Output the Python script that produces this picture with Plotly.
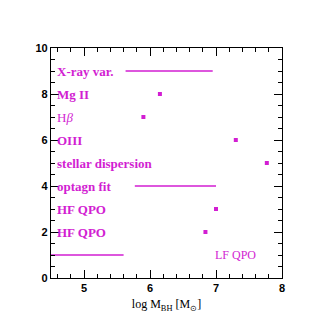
import plotly.graph_objects as go

# Mass estimates (log M_BH) for each method, plotted at its row
methods = ["LF QPO", "HF QPO", "HF QPO", "optagn fit", "stellar dispersion",
           "OIII", "Hβ", "Mg II", "X-ray var."]
rows = [1, 2, 3, 4, 5, 6, 7, 8, 9]
mass_lo = [4.3, 6.84, 7.0, 5.77, 7.77, 7.30, 5.90, 6.15, 5.63]
mass_hi = [5.6, 6.84, 7.0, 7.00, 7.77, 7.30, 5.90, 6.15, 6.95]

x_ticks = [5, 6, 7, 8]
y_ticks = [0, 2, 4, 6, 8, 10]

MAG = "#d21ed2"
X_RANGE = [4.5, 8]
Y_RANGE = [0, 10]

line_x, line_y, pt_x, pt_y = [], [], [], []
for lo, hi, r in zip(mass_lo, mass_hi, rows):
    if hi > lo:
        line_x += [lo, hi, None]
        line_y += [r, r, None]
    else:
        pt_x.append(lo)
        pt_y.append(r)

fig = go.Figure()
fig.add_trace(go.Scatter(x=line_x, y=line_y, mode="lines",
                         line=dict(color=MAG, width=1.6), hoverinfo="skip"))
fig.add_trace(go.Scatter(x=pt_x, y=pt_y, mode="markers",
                         marker=dict(color=MAG, size=4, symbol="square"),
                         hoverinfo="skip"))
# empty trace that carries the mirrored top/right axes
fig.add_trace(go.Scatter(x=[None], y=[None], xaxis="x2", yaxis="y2",
                         hoverinfo="skip"))

label_font = dict(family="Liberation Serif", size=13, color=MAG)
for name, r in zip(methods, rows):
    if name == "LF QPO":
        fig.add_annotation(x=6.96, y=r, text=name, showarrow=False,
                           xanchor="left", yanchor="middle",
                           font=dict(family="Liberation Serif", size=12, color=MAG))
    else:
        txt = "H<i>β</i>" if name == "Hβ" else "<b>%s</b>" % name
        fig.add_annotation(x=4.56, y=r, text=txt, showarrow=False,
                           xanchor="left", yanchor="middle", font=label_font)

tick_font = dict(family="Liberation Sans", size=11, color="black")
frame = dict(showgrid=False, zeroline=False, showline=True,
             linecolor="black", linewidth=1.2,
             ticks="inside", tickcolor="black", tickwidth=1, ticklen=8)

fig.update_layout(
    xaxis=dict(range=X_RANGE, tickvals=x_ticks,
               ticktext=["<b>%d</b>" % v for v in x_ticks], tickfont=tick_font,
               minor=dict(dtick=0.2, ticks="inside", ticklen=4,
                          tickcolor="black", showgrid=False),
               title=dict(text="log M<sub>BH</sub> [M<sub>⊙</sub>]",
                          font=dict(family="Liberation Serif", size=12,
                                    color="black"), standoff=6),
               **frame),
    yaxis=dict(range=Y_RANGE, tickvals=y_ticks,
               ticktext=["<b>%d</b>" % v for v in y_ticks], tickfont=tick_font,
               minor=dict(dtick=0.5, ticks="inside", ticklen=4,
                          tickcolor="black", showgrid=False),
               **frame),
    xaxis2=dict(range=X_RANGE, tickvals=x_ticks, showticklabels=False,
                overlaying="x", side="top", anchor="y",
                minor=dict(dtick=0.2, ticks="inside", ticklen=4,
                           tickcolor="black", showgrid=False),
                **frame),
    yaxis2=dict(range=Y_RANGE, tickvals=y_ticks, showticklabels=False,
                overlaying="y", side="right", anchor="x",
                minor=dict(dtick=0.5, ticks="inside", ticklen=4,
                           tickcolor="black", showgrid=False),
                **frame),
    width=330, height=330, showlegend=False,
    margin=dict(l=51, r=48, t=48, b=52),
    paper_bgcolor="white", plot_bgcolor="white",
)

fig.write_html("out.html")
